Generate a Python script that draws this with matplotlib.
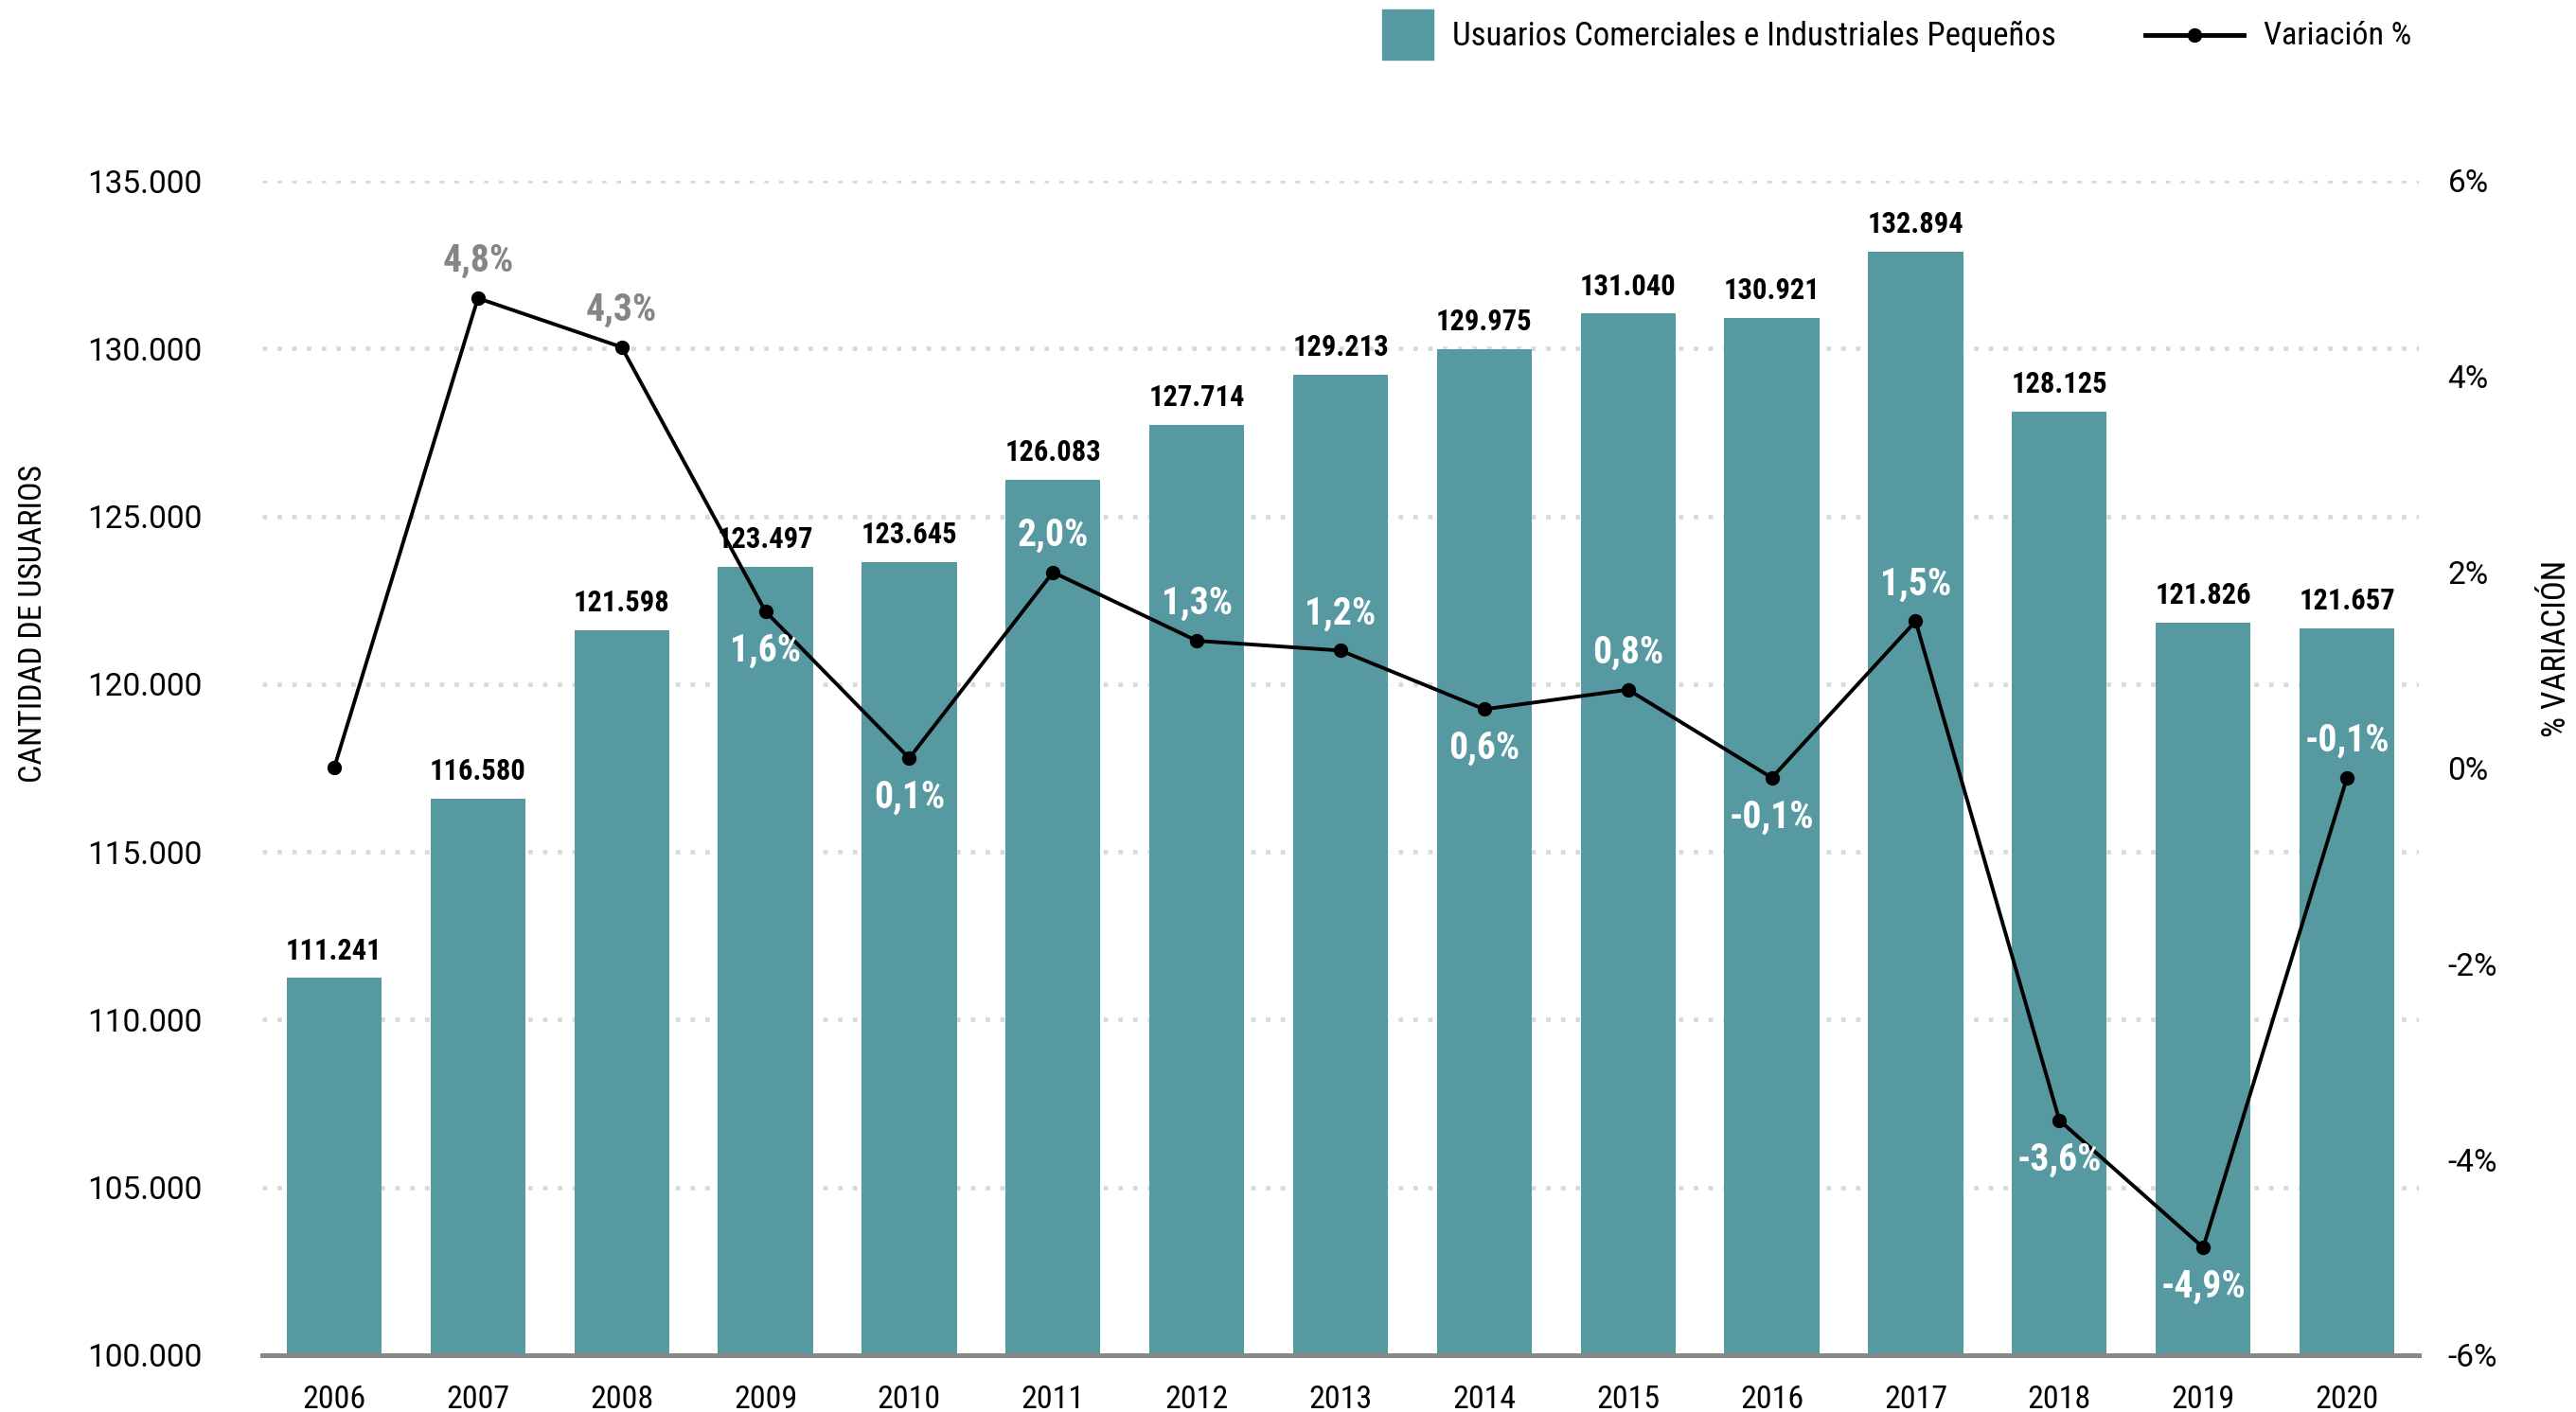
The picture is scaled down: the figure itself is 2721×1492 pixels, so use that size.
import matplotlib
matplotlib.use('Agg')
import matplotlib.pyplot as plt
from matplotlib import font_manager as fm
from matplotlib.patches import Rectangle
from matplotlib.lines import Line2D
from matplotlib.ticker import FuncFormatter, FixedLocator

# ---------------- data ----------------
years = ['2006', '2007', '2008', '2009', '2010', '2011', '2012', '2013',
         '2014', '2015', '2016', '2017', '2018', '2019', '2020']
usuarios = [111241, 116580, 121598, 123497, 123645, 126083, 127714, 129213,
            129975, 131040, 130921, 132894, 128125, 121826, 121657]
variacion = [0.0, 4.8, 4.3, 1.6, 0.1, 2.0, 1.3, 1.2, 0.6, 0.8, -0.1, 1.5,
             -3.6, -4.9, -0.1]
show_label = [False] + [True] * 14
label_side = ['above', 'above', 'above', 'below', 'below', 'above', 'above',
              'above', 'below', 'above', 'below', 'above', 'below', 'below',
              'above']
left_ticks = [100000, 105000, 110000, 115000, 120000, 125000, 130000, 135000]
right_ticks = [-6, -4, -2, 0, 2, 4, 6]

bar_name = 'Usuarios Comerciales e Industriales Pequeños'
line_name = 'Variación %'
ylabel_left = 'CANTIDAD DE USUARIOS'
ylabel_right = '% VARIACIÓN'

# ---------------- style ----------------
TEAL = '#5699a0'
GRID = '#d9d9d9'
GRAYTXT = '#858585'

names = {f.name for f in fm.fontManager.ttflist}
COND = 'Roboto Condensed' if 'Roboto Condensed' in names else 'Roboto'
REG = 'Roboto' if 'Roboto' in names else 'DejaVu Sans'
FAM = [COND, 'DejaVu Sans']
plt.rcParams['font.family'] = FAM

W, H = 2721, 1492
fig = plt.figure(figsize=(W / 100, H / 100), dpi=100)
L, R, T, B = 277, 2555, 191, 1432
ax = fig.add_axes([L / W, 1 - B / H, (R - L) / W, (B - T) / H])
ax2 = ax.twinx()
ax.set_zorder(1)
ax2.set_zorder(2)
ax.patch.set_visible(False)

x = list(range(len(years)))
ax.bar(x, usuarios, width=0.66, color=TEAL, zorder=2)
ax.set_ylim(100000, 135000)
ax.set_xlim(-0.5, 14.5)
ax.yaxis.set_major_locator(FixedLocator(left_ticks))
ax.yaxis.set_major_formatter(FuncFormatter(lambda v, p: f"{int(v):,}".replace(',', '.')))
for t in left_ticks[1:]:
    ax.axhline(t, color=GRID, lw=3.4, linestyle=(0, (1.0, 2.3)), zorder=1)

ax.set_xticks(x)
ax.set_xticklabels(years)
ax.tick_params(axis='x', length=0, pad=22, labelsize=24.5)
ax.tick_params(axis='y', length=0, pad=46, labelsize=24)
for lab in ax.get_yticklabels():
    lab.set_fontfamily([REG, 'DejaVu Sans'])
for s in ['top', 'right', 'left']:
    ax.spines[s].set_visible(False)
ax.spines['bottom'].set_color('#888888')
ax.spines['bottom'].set_linewidth(3.6)
ax.spines['bottom'].set_zorder(5)

for xi, v in zip(x, usuarios):
    ax.annotate(f"{v:,}".replace(',', '.'), (xi, v), xytext=(0, 10),
                textcoords='offset points', ha='center', va='bottom',
                fontsize=22, fontweight='bold', color='black', zorder=6)

ax2.plot(x, variacion, color='black', lw=2.8, marker='o', markersize=10,
         zorder=4)
ax2.set_ylim(-6, 6)
ax2.yaxis.set_major_locator(FixedLocator(right_ticks))
ax2.yaxis.set_major_formatter(FuncFormatter(lambda v, p: f"{int(v)}%"))
ax2.tick_params(axis='y', length=0, pad=22, labelsize=24)
for lab in ax2.get_yticklabels():
    lab.set_fontfamily([REG, 'DejaVu Sans'])
for s in ax2.spines.values():
    s.set_visible(False)

for xi, v, u, show, side in zip(x, variacion, usuarios, show_label, label_side):
    if not show:
        continue
    dy = 28 if side == 'above' else -30
    # white if the label sits on a bar, gray otherwise
    disp = ax2.transData.transform((xi, v))
    ly = disp[1] + dy * fig.dpi / 72
    bar_top = ax.transData.transform((xi, u))[1]
    col = 'white' if ly < bar_top else GRAYTXT
    ax2.annotate(f"{v:.1f}%".replace('.', ','), (xi, v), xytext=(0, dy),
                 textcoords='offset points', ha='center', va='center',
                 fontsize=28.5, fontweight='bold', color=col, zorder=6)

# axis titles
fig.text(35 / W, 1 - 659 / H, ylabel_left, rotation=90, ha='center',
         va='center', fontsize=24.5)
fig.text(2701 / W, 1 - 685 / H, ylabel_right, rotation=90, ha='center',
         va='center', fontsize=25)

# legend (manual, in figure pixels)
fig.add_artist(Rectangle((1460 / W, 1 - 63 / H), 54 / W, 53 / H,
                         transform=fig.transFigure, color=TEAL))
fig.text(1534 / W, 1 - 38 / H, bar_name, ha='left', va='center', fontsize=25)
fig.add_artist(Line2D([2266 / W, 2370 / W], [1 - 37 / H, 1 - 37 / H],
                      transform=fig.transFigure, color='black', lw=3.5))
fig.add_artist(Line2D([2318 / W], [1 - 37 / H], transform=fig.transFigure,
                      color='black', marker='o', markersize=10))
fig.text(2391 / W, 1 - 38 / H, line_name, ha='left', va='center', fontsize=24.5)

fig.savefig('out.png', dpi=100)
